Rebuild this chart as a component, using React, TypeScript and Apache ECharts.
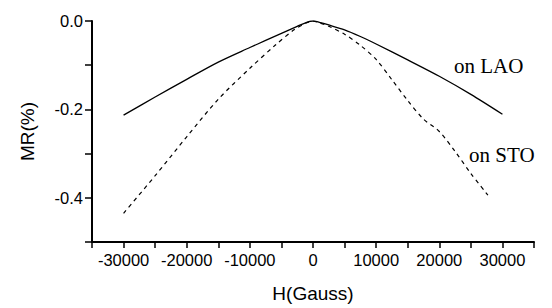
import React, { useEffect, useRef } from "react";
import * as echarts from "echarts";

const laoField = [-30000, -25000, -20000, -15000, -10000, -7500, -5000, -2500, -1000, 0, 1000, 2500, 5000, 7500, 10000, 15000, 20000, 25000, 30000];
const laoMR = [-0.213, -0.172, -0.132, -0.093, -0.06, -0.044, -0.028, -0.012, -0.003, 0, -0.003, -0.009, -0.02, -0.035, -0.052, -0.088, -0.125, -0.166, -0.211];

const stoField = [-30000, -25000, -20000, -15000, -10000, -6000, -3000, -1000, 0, 1000, 2500, 5000, 7500, 10000, 12500, 15000, 17500, 20000, 22500, 25000, 27700];
const stoMR = [-0.435, -0.35, -0.262, -0.177, -0.107, -0.055, -0.02, -0.004, 0, -0.004, -0.012, -0.03, -0.055, -0.087, -0.133, -0.18, -0.222, -0.25, -0.295, -0.345, -0.394];

const seriesLabels = ["on LAO", "on STO"];

export default function App() {
  const ref = useRef<HTMLDivElement>(null);
  useEffect(() => {
    if (!ref.current) return;
    const chart = echarts.init(ref.current, null, { renderer: "svg" });
    const toPairs = (xs: number[], ys: number[]) => xs.map((x, i) => [x, ys[i]]);
    chart.setOption({
      animation: false,
      backgroundColor: "#ffffff",
      grid: { left: 92, right: 18, top: 21, bottom: 64 },
      xAxis: {
        type: "value",
        min: -35000,
        max: 35000,
        interval: 5000,
        name: "H(Gauss)",
        nameLocation: "middle",
        nameGap: 42,
        nameTextStyle: { fontFamily: "Liberation Sans", fontSize: 19, color: "#000" },
        axisLine: { onZero: false, lineStyle: { color: "#000", width: 2 } },
        axisTick: { show: true, inside: false, length: 6, lineStyle: { color: "#000", width: 1.5 } },
        axisLabel: {
          color: "#000",
          fontFamily: "Liberation Sans",
          fontSize: 16.5,
          margin: 9,
          formatter: (v: number) => (Math.round(v / 5000) % 2 === 0 ? String(v) : ""),
        },
        splitLine: { show: false },
      },
      yAxis: {
        type: "value",
        min: -0.5,
        max: 0,
        interval: 0.1,
        name: "MR(%)",
        nameLocation: "middle",
        nameGap: 55,
        nameRotate: 90,
        nameTextStyle: { fontFamily: "Liberation Sans", fontSize: 19, color: "#000" },
        axisLine: { show: true, onZero: false, lineStyle: { color: "#000", width: 2 } },
        axisTick: { show: true, inside: false, length: 7, lineStyle: { color: "#000", width: 1.5 } },
        axisLabel: {
          color: "#000",
          fontFamily: "Liberation Sans",
          fontSize: 16.5,
          margin: 9,
          formatter: (v: number) => (Math.round(v * 10) % 2 === 0 ? v.toFixed(1).replace("-0.0", "0.0") : ""),
        },
        splitLine: { show: false },
      },
      series: [
        {
          type: "line",
          name: seriesLabels[0],
          data: toPairs(laoField, laoMR),
          smooth: 0.3,
          showSymbol: false,
          symbol: "none",
          lineStyle: { color: "#000", width: 1.3, type: "solid" },
        },
        {
          type: "line",
          name: seriesLabels[1],
          data: toPairs(stoField, stoMR),
          smooth: 0.3,
          showSymbol: false,
          symbol: "none",
          lineStyle: { color: "#000", width: 1.2, type: [4, 4] },
        },
      ],
      graphic: [
        {
          type: "text",
          left: 454,
          top: 55,
          style: { text: seriesLabels[0], font: '21px "Liberation Serif"', fill: "#000" },
        },
        {
          type: "text",
          left: 469,
          top: 144,
          style: { text: seriesLabels[1], font: '21px "Liberation Serif"', fill: "#000" },
        },
      ],
    });
    return () => chart.dispose();
  }, []);
  return <div ref={ref} style={{ width: 552, height: 308, position: "absolute", left: 0, top: 0 }} />;
}
